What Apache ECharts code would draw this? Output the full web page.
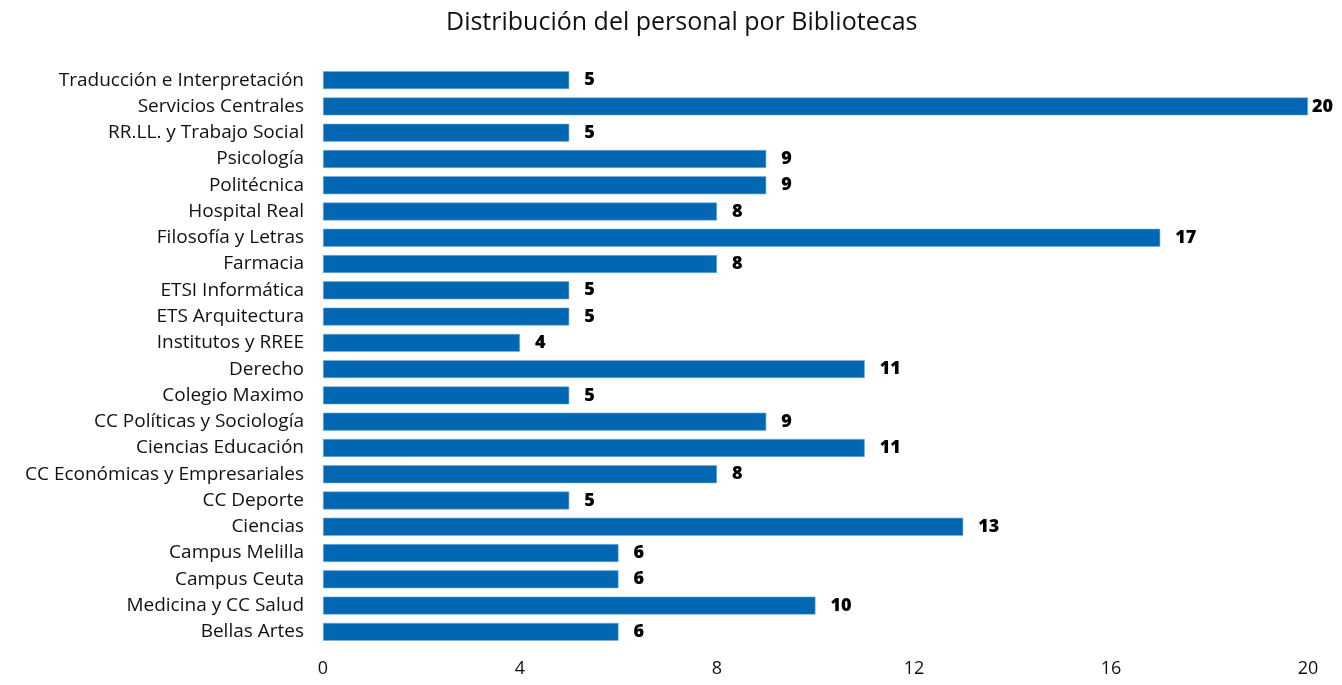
<!DOCTYPE html>
<html>

<head>
    <meta http-equiv="Content-Type" content="text/html; charset=utf-8" />
    <title>Distribución del personal</title>
    <style type="text/css">
    body,
    html {
        width: 100%;
        height: 100%;
        margin: 0;
        overflow: hidden;
        background: #fff;
    }

    #container {
        width: 1342px;
        height: 685px;
    }
    </style>
</head>

<body>
    <div id="container"></div>
</body>
<script src="https://cdn.jsdelivr.net/npm/echarts@6/dist/echarts.min.js"></script>
<script>
// categorias de abajo hacia arriba
var bibliotecas = [
    'Bellas Artes', 'Medicina y CC Salud', 'Campus Ceuta', 'Campus Melilla', 'Ciencias',
    'CC Deporte', 'CC Económicas y Empresariales', 'Ciencias Educación',
    'CC Políticas y Sociología', 'Colegio Maximo', 'Derecho', 'Institutos y RREE',
    'ETS Arquitectura', 'ETSI Informática', 'Farmacia', 'Filosofía y Letras',
    'Hospital Real', 'Politécnica', 'Psicología', 'RR.LL. y Trabajo Social',
    'Servicios Centrales', 'Traducción e Interpretación'
];
var personal = [6, 10, 6, 6, 13, 5, 8, 11, 9, 5, 11, 4, 5, 5, 8, 17, 8, 9, 9, 5, 20, 5];
var ejeX = [0, 4, 8, 12, 16, 20];

var maxX = ejeX[ejeX.length - 1];

var myChart = echarts.init(document.getElementById('container'));

// la etiqueta de la barra mas larga queda pegada al borde
var datos = personal.map(function(v) {
    if (v >= maxX) return { value: v, label: { distance: 4 } };
    return v;
});

var option = {
    animation: false,
    textStyle: { fontFamily: 'Open Sans' },
    title: {
        text: 'Distribución del personal por Bibliotecas',
        left: 441,
        top: 5,
        textStyle: { fontFamily: 'Open Sans', fontSize: 25, fontWeight: 'normal', color: '#111' }
    },
    grid: { left: 323, right: 34, top: 67, bottom: 40 },
    xAxis: {
        type: 'value',
        min: ejeX[0],
        max: maxX,
        interval: 4,
        axisLine: { show: false },
        axisTick: { show: false },
        splitLine: { show: false },
        axisLabel: { color: '#111', fontSize: 18, margin: 15 }
    },
    yAxis: {
        type: 'category',
        data: bibliotecas,
        axisLine: { show: false },
        axisTick: { show: false },
        axisLabel: { color: '#111', fontSize: 19, margin: 19 }
    },
    series: [{
        type: 'bar',
        data: datos,
        barWidth: 18,
        itemStyle: { color: '#0167b2', borderColor: '#7fb0d9', borderWidth: 0.6 },
        label: {
            show: true,
            position: 'right',
            distance: 15,
            color: '#000',
            fontFamily: 'Open Sans',
            fontWeight: 800,
            fontSize: 18
        }
    }]
};

myChart.setOption(option);
</script>

</html>
